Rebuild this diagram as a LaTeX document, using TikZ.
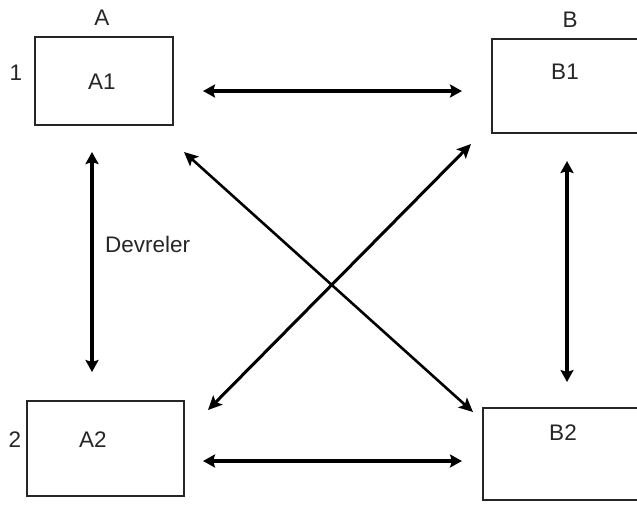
\documentclass[tikz,border=0pt]{standalone}
\usepackage{fontspec}
\setmainfont{Liberation Sans}
\usetikzlibrary{arrows.meta}
\begin{document}
\begin{tikzpicture}[x=1pt,y=-1pt,
  boxstyle/.style={draw=black!85,line width=2.2pt,fill=none,inner sep=0pt},
  txt/.style={font=\fontsize{22.5}{26}\selectfont,text=black!85,inner sep=0pt},
  thick arrow/.style={line width=3.6pt,{Stealth[length=12pt,width=13pt,inset=2pt]}-{Stealth[length=12pt,width=13pt,inset=2pt]}},
  thin arrow/.style={line width=2.6pt,{Stealth[length=14pt,width=13pt,inset=3pt]}-{Stealth[length=14pt,width=13pt,inset=3pt]}}]
\clip (0,0) rectangle (637,504);
\fill[white] (0,0) rectangle (637,504);
% boxes
\node[boxstyle,minimum width=138pt,minimum height=88pt] (boxA1) at (104,81) {};
\node[boxstyle,minimum width=160pt,minimum height=94pt] (boxB1) at (572,86) {};
\node[boxstyle,minimum width=157pt,minimum height=95pt] (boxA2) at (105.5,448.5) {};
\node[boxstyle,minimum width=160pt,minimum height=92pt] (boxB2) at (563,454) {};
% texts
\node[txt] (tA) at (102,18) {A};
\node[txt] (tB) at (570,20) {B};
\node[txt] (t1) at (16,73) {1};
\node[txt] (t2) at (15,440) {2};
\node[txt] (tA1) at (102,82) {A1};
\node[txt] (tB1) at (565,72) {B1};
\node[txt] (tA2) at (93,440) {A2};
\node[txt] (tB2) at (563,433) {B2};
\node[txt,anchor=west] (tDev) at (105,244) {Devreler};
% connector ends
\coordinate (h1a) at (203,91);
\coordinate (h1b) at (462,91);
\coordinate (h2a) at (203,461);
\coordinate (h2b) at (462,461);
\coordinate (v1a) at (92,152);
\coordinate (v1b) at (92,372);
\coordinate (v2a) at (567,161);
\coordinate (v2b) at (567,382);
\coordinate (d1a) at (184,152);
\coordinate (d1b) at (473,412);
\coordinate (d2a) at (471,144);
\coordinate (d2b) at (208,410);
% connectors
\draw[thick arrow] (h1a) -- (h1b);
\draw[thick arrow] (h2a) -- (h2b);
\draw[thick arrow] (v1a) -- (v1b);
\draw[thick arrow] (v2a) -- (v2b);
\draw[thin arrow] (d1a) -- (d1b);
\draw[thin arrow,line width=3pt] (d2a) -- (d2b);
\end{tikzpicture}
\end{document}
